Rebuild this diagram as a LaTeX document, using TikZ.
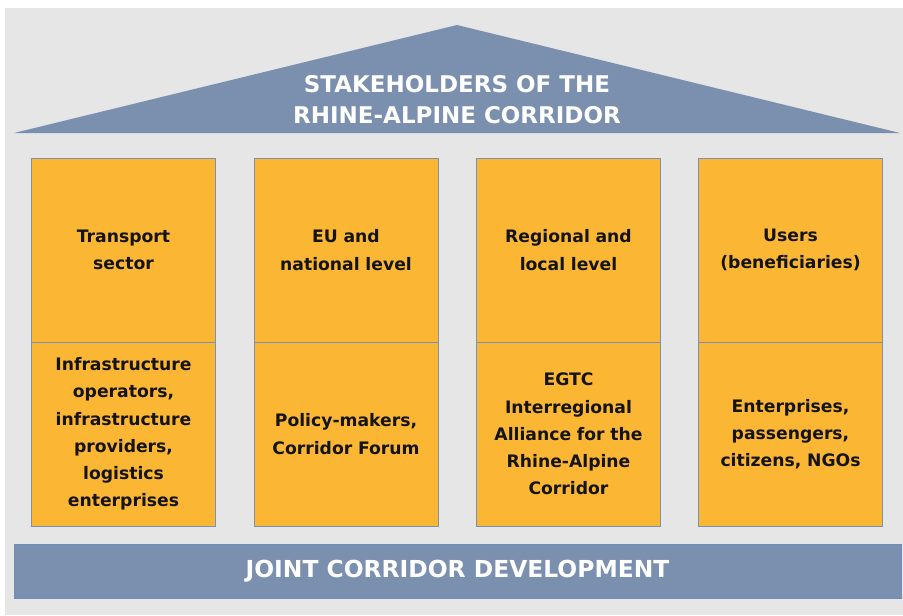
\documentclass[tikz,border=0pt]{standalone}
\usepackage{fontspec}
\setmainfont{DejaVu Sans}
\definecolor{bggray}{RGB}{230,230,230}
\definecolor{slate}{RGB}{122,144,174}
\definecolor{slateedge}{RGB}{110,140,190}
\definecolor{orangecell}{RGB}{251,182,52}
\definecolor{celledge}{RGB}{120,145,185}
\definecolor{darktext}{RGB}{20,20,20}
\begin{document}
\begin{tikzpicture}[x=1pt,y=-1pt,
  cell/.style={draw=celledge,line width=0.8pt,fill=orangecell,minimum width=184pt,minimum height=184pt,
    text width=176pt,align=center,inner sep=0pt,text=darktext,
    font=\fontsize{17.2}{27.2}\selectfont\bfseries},
  bigtext/.style={text=white,align=center,font=\fontsize{23}{31}\selectfont\bfseries}]
\useasboundingbox (0,0) rectangle (903,616);
\fill[bggray] (5,8) rectangle (903,615);
% roof
\coordinate (rl) at (14,133);
\coordinate (ra) at (457,25);
\coordinate (rr) at (900,133);
\fill[slate] (rl) -- (ra) -- (rr) -- cycle;
\node[bigtext] (roof) at (457,100) {STAKEHOLDERS OF THE\\RHINE-ALPINE CORRIDOR};
% columns
\node[cell] (t1) at (123.5,250) {Transport\\sector};
\node[cell] (b1) at (123.5,434) {Infrastructure\\operators,\\infrastructure\\providers,\\logistics\\enterprises};
\node[cell] (t2) at (346,250) {EU and\\national level};
\node[cell] (b2) at (346,434) {Policy-makers,\\Corridor Forum};
\node[cell] (t3) at (568.5,250) {Regional and\\local level};
\node[cell] (b3) at (568.5,434) {EGTC\\Interregional\\Alliance for the\\Rhine-Alpine\\Corridor};
\node[cell] (t4) at (790.5,250) {Users\\(beneficiaries)};
\node[cell] (b4) at (790.5,434) {Enterprises,\\passengers,\\citizens, NGOs};
% base
\node[fill=slate,draw=slateedge,line width=0.8pt,minimum width=887pt,minimum height=54pt,inner sep=0pt,bigtext,font=\fontsize{23.4}{31}\selectfont\bfseries] (base) at (457.5,571) {JOINT CORRIDOR DEVELOPMENT};
\end{tikzpicture}
\end{document}
